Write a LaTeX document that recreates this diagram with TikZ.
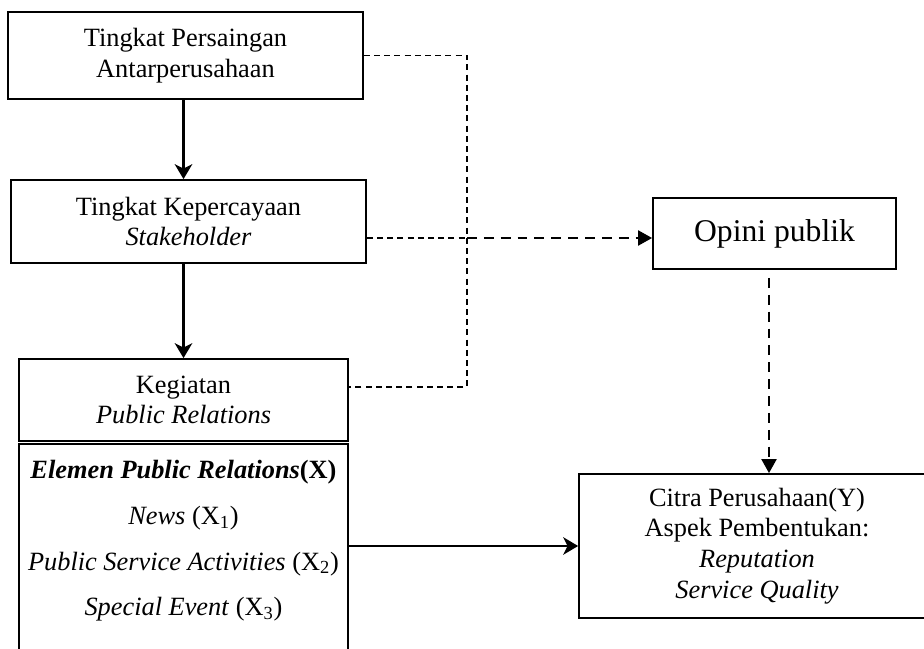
\documentclass[tikz,border=0pt]{standalone}
\usepackage{fontspec}
\setmainfont{Liberation Serif}
\usetikzlibrary{arrows.meta,positioning,calc}

\begin{document}
\begin{tikzpicture}[>={Stealth[length=8.5pt,width=10pt,inset=2.5pt]},
  kotak/.style={draw, line width=1pt, align=center, inner sep=0pt, font=\fontsize{15}{17.5}\selectfont},
  panah/.style={->, line width=1.3pt},
  putus/.style={line width=0.9pt, dash pattern=on 3.4pt off 2.4pt},
  putustebal/.style={-{Triangle[length=8pt,width=8.5pt]}, line width=1.4pt, dash pattern=on 5.6pt off 4pt}]

\clip (0,0) rectangle (18.48,12.96);

\node[kotak, minimum width=7.1cm, minimum height=1.74cm] (saing) at (3.71,11.85) {Tingkat Persaingan\\Antarperusahaan};
\node[kotak, minimum width=7.1cm, minimum height=1.66cm] (percaya) at (3.77,8.53) {Tingkat Kepercayaan\\\textit{Stakeholder}};
\node[kotak, minimum width=6.58cm, minimum height=1.64cm] (kegiatan) at (3.67,4.96) {Kegiatan\\\textit{Public Relations}};
\node[kotak, anchor=north, minimum width=6.58cm, inner ysep=0.33cm, font=\fontsize{15}{26}\selectfont] (elemen) at (3.67,4.10) {\textbf{\textit{Elemen Public Relations}(X)}\\\textit{News} (X\textsubscript{1})\\\textit{Public Service Activities} (X\textsubscript{2})\\\textit{Special Event} (X\textsubscript{3})\\ \mbox{}};
\node[kotak, minimum width=4.86cm, minimum height=1.42cm, font=\fontsize{18}{21}\selectfont] (opini) at (15.49,8.29) {Opini publik};
\node[kotak, minimum width=7.12cm, minimum height=2.88cm] (citra) at (15.14,2.04) {Citra Perusahaan(Y)\\Aspek Pembentukan:\\\textit{Reputation}\\\textit{Service Quality}};

\coordinate (sudut) at (9.34,5.22);
\coordinate (tengah) at (9.34,8.20);
\coordinate (bawahopini) at (15.38,7.40);

\draw[panah] (saing.south -| kegiatan.north) -- (percaya.north -| kegiatan.north);
\draw[panah] (percaya.south -| kegiatan.north) -- (kegiatan.north);
\draw[putus] (saing.east) -| (sudut) -- (sudut -| kegiatan.east);
\draw[putus] (tengah -| percaya.east) -- (tengah);
\draw[putustebal] (tengah) -- (tengah -| opini.west);
\draw[putustebal] (bawahopini) -- (bawahopini |- citra.north);
\draw[panah] (citra.west -| elemen.east) -- (citra.west);

\end{tikzpicture}
\end{document}
